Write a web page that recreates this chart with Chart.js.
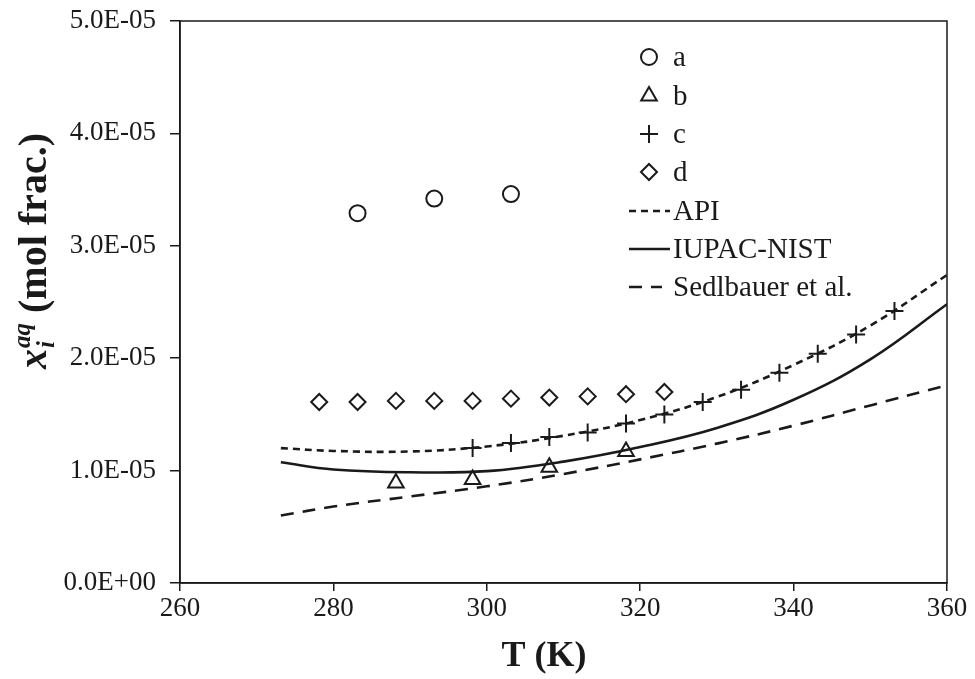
<!DOCTYPE html>
<html>
<head>
<meta charset="utf-8">
<script src="https://cdn.jsdelivr.net/npm/chart.js@4.4.1/dist/chart.umd.min.js"></script>
<style>
  body { margin: 0; background: #fff; }
  #wrap { width: 975px; height: 679px; position: relative; }
</style>
</head>
<body>
<div id="wrap"><canvas id="myChart"></canvas></div>
<script>
// temperatures (K) and mole fractions (units of 1e-5)
const tA = [283.15, 293.15, 303.15];
const yA = [3.29, 3.42, 3.46];
const tB = [288.15, 298.15, 308.15, 318.15];
const yB = [0.89, 0.92, 1.03, 1.17];
const tC = [298.15, 303.15, 308.15, 313.15, 318.15, 323.15, 328.15, 333.15, 338.15, 343.15, 348.15, 353.15];
const yC = [1.20, 1.245, 1.30, 1.34, 1.42, 1.50, 1.61, 1.72, 1.87, 2.04, 2.21, 2.42];
const tD = [278.15, 283.15, 288.15, 293.15, 298.15, 303.15, 308.15, 313.15, 318.15, 323.15];
const yD = [1.61, 1.61, 1.62, 1.62, 1.62, 1.64, 1.65, 1.66, 1.68, 1.70];
const tCurve = [273.15, 280, 290, 300, 310, 320, 330, 340, 350, 360];
const yApi = [1.20, 1.175, 1.17, 1.215, 1.31, 1.45, 1.655, 1.94, 2.29, 2.74];
const yIupac = [1.074, 1.01, 0.985, 0.995, 1.08, 1.21, 1.38, 1.63, 1.99, 2.48];
const ySedl = [0.60, 0.68, 0.77, 0.86, 0.97, 1.10, 1.24, 1.40, 1.58, 1.76];
const xTicks = [260, 280, 300, 320, 340, 360];
const yMax = 5e-5;

const SERIF = "'Liberation Serif', 'Times New Roman', serif";
const ink = '#1a1a1a';

function pts(t, y) {
    return t.map((v, i) => ({ x: v, y: y[i] * 1e-5 }));
}

// 1.0E-05 style labels
function sci(v) {
    if (Math.abs(v) < 1e-12) return '0.0E+00';
    let e = Math.floor(Math.log10(Math.abs(v)) + 1e-9);
    let m = v / Math.pow(10, e);
    if (m >= 9.95) { m = m / 10; e += 1; }
    return m.toFixed(1) + 'E' + (e < 0 ? '-' : '+') + String(Math.abs(e)).padStart(2, '0');
}

const markerSet = (style, r) => ({
    showLine: false,
    pointStyle: style,
    pointRadius: r,
    pointHoverRadius: r,
    pointBorderColor: ink,
    pointBackgroundColor: 'rgba(0,0,0,0)',
    pointBorderWidth: 2,
    borderColor: ink,
    backgroundColor: 'rgba(0,0,0,0)'
});
const lineSet = (dash) => ({
    showLine: true,
    borderColor: ink,
    borderWidth: 2.6,
    borderDash: dash,
    pointRadius: 0,
    tension: 0.4,
    fill: false
});

// box around plot + legend + titles
const extras = {
    id: 'extras',
    afterDraw(chart) {
        const c = chart.ctx;
        const a = chart.chartArea;
        c.save();
        c.strokeStyle = ink;
        c.lineWidth = 1.5;
        c.strokeRect(a.left, a.top, a.right - a.left, a.bottom - a.top);

        // legend
        const rows = [57, 96, 134, 172, 211, 249, 287];
        const ds = chart.data.datasets;
        c.font = '29px ' + SERIF;
        c.textBaseline = 'middle';
        ds.forEach((d, i) => {
            const y = rows[i];
            c.fillStyle = ink;
            if (d.showLine) {
                c.beginPath();
                c.lineWidth = d.borderWidth;
                c.setLineDash(d.borderDash || []);
                c.moveTo(629, y);
                c.lineTo(i === 6 ? 662 : 670, y);
                c.stroke();
                c.setLineDash([]);
            } else {
                c.fillStyle = 'rgba(0,0,0,0)';
                c.lineWidth = 2;
                Chart.helpers.drawPoint(c, {
                    pointStyle: d.pointStyle, radius: d.pointRadius, borderWidth: 2, rotation: 0
                }, 649, y);
                c.fillStyle = ink;
            }
            c.fillText(d.label, 673, y + 1);
        });

        // y axis title with sub/superscript
        c.translate(33, 251);
        c.rotate(-Math.PI / 2);
        c.fillStyle = ink;
        c.textBaseline = 'alphabetic';
        const big = 'bold italic 40px ' + SERIF;
        const small = 'bold italic 25px ' + SERIF;
        const rest = 'bold 40px ' + SERIF;
        c.font = big; const wx = c.measureText('x').width;
        c.font = small; const wi = c.measureText('i').width, wq = c.measureText('aq').width;
        c.font = rest; const wr = c.measureText(' (mol frac.)').width;
        const total = wx + 1 + Math.max(wi, wq) + wr;
        let x = -total / 2;
        const base = 13;
        c.font = big; c.fillText('x', x, base); x += wx + 1;
        c.font = small; c.fillText('i', x, base + 8); c.fillText('aq', x, base - 16);
        x += Math.max(wi, wq);
        c.font = rest; c.fillText(' (mol frac.)', x, base);
        c.restore();

        // x title
        c.save();
        c.font = 'bold 36px ' + SERIF;
        c.fillStyle = ink;
        c.textAlign = 'center';
        c.textBaseline = 'middle';
        c.fillText('T (K)', 544, 657);
        c.restore();
    }
};

const ctx = document.getElementById('myChart');
const chart = new Chart(ctx, {
    type: 'scatter',
    data: {
        datasets: [
            { label: 'a', data: pts(tA, yA), ...markerSet('circle', 8) },
            { label: 'b', data: pts(tB, yB), ...markerSet('triangle', 9) },
            { label: 'c', data: pts(tC, yC), ...markerSet('cross', 9) },
            { label: 'd', data: pts(tD, yD), ...markerSet('rectRot', 8) },
            { label: 'API', data: pts(tCurve, yApi), ...lineSet([7, 5]) },
            { label: 'IUPAC-NIST', data: pts(tCurve, yIupac), ...lineSet([]) },
            { label: 'Sedlbauer et al.', data: pts(tCurve, ySedl), ...lineSet([13, 9]) }
        ]
    },
    options: {
        responsive: true,
        maintainAspectRatio: false,
        animation: false,
        layout: { padding: { top: 21, right: 28, left: 0, bottom: 0 } },
        scales: {
            x: {
                type: 'linear',
                min: xTicks[0],
                max: xTicks[xTicks.length - 1],
                afterBuildTicks: (s) => { s.ticks = xTicks.map(v => ({ value: v })); },
                afterFit: (s) => { s.height = 96; s.paddingLeft = 0; s.paddingRight = 0; },
                ticks: { color: ink, padding: 2, font: { family: SERIF, size: 27 } },
                grid: { drawOnChartArea: false, color: ink, tickLength: 8, lineWidth: 1.5 },
                border: { color: ink, width: 1.5 }
            },
            y: {
                min: 0,
                max: yMax,
                ticks: {
                    stepSize: 1e-5,
                    color: ink,
                    padding: 14,
                    font: { family: SERIF, size: 27 },
                    callback: (v) => sci(v)
                },
                afterFit: (s) => { s.width = 180; s.paddingTop = 0; s.paddingBottom = 0; },
                grid: { drawOnChartArea: false, color: ink, tickLength: 10, lineWidth: 1.5 },
                border: { color: ink, width: 1.5 }
            }
        },
        plugins: {
            legend: { display: false },
            tooltip: { enabled: false }
        }
    },
    plugins: [extras]
});
</script>
</body>
</html>
